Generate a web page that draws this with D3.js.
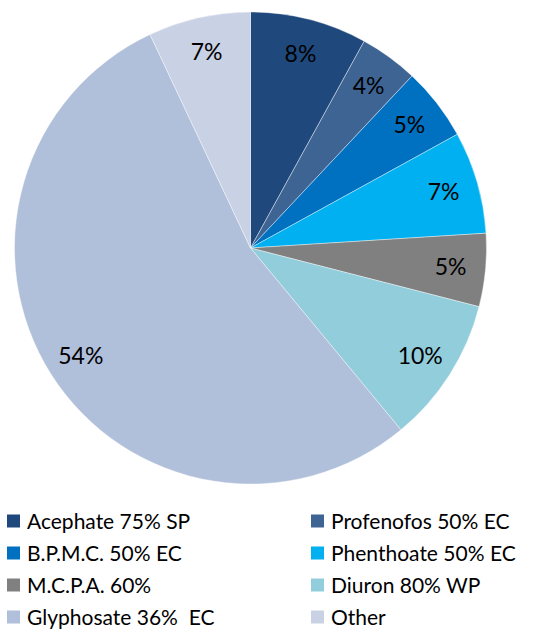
<!DOCTYPE html>
<html>
<head>
<meta charset="utf-8">
<script src="https://cdn.jsdelivr.net/npm/d3@7"></script>
<style>
  body { margin: 0; background: #fff; }
  text { font-family: Lato, "Open Sans", sans-serif; fill: #000; white-space: pre; }
</style>
</head>
<body>
<div id="chart"></div>
<script>
// pesticide share, clockwise from 12 o'clock
var products = ['Acephate 75% SP', 'Profenofos 50% EC', 'B.P.M.C. 50% EC', 'Phenthoate 50% EC',
                'M.C.P.A. 60%', 'Diuron 80% WP', 'Glyphosate 36%  EC', 'Other'];
var shares = [8, 4, 5, 7, 5, 10, 54, 7];
var colors = ['#1f497d', '#3e6494', '#0070c0', '#00b0f0', '#808080', '#92cddc', '#b0bfda', '#c9d1e4'];

var width = 536, height = 631,
    cx = 250.5, cy = 248, radius = 236;

var svg = d3.select('#chart').append('svg')
  .attr('width', width)
  .attr('height', height);

var data = products.map(function(p, i) { return { name: p, value: shares[i], color: colors[i] }; });

var pie = d3.pie().sort(null).value(function(d) { return d.value; }),
    arc = d3.arc().innerRadius(0).outerRadius(radius),
    labelArc = d3.arc().innerRadius(201).outerRadius(201);

var g = svg.append('g').attr('transform', 'translate(' + cx + ',' + cy + ')');

var slices = g.selectAll('g.slice')
  .data(pie(data))
  .enter().append('g').attr('class', 'slice');

slices.append('path')
  .attr('d', arc)
  .attr('fill', function(d) { return d.data.color; })
  .attr('stroke', '#fff')
  .attr('stroke-width', 0.4);

slices.append('text')
  .attr('transform', function(d) { return 'translate(' + labelArc.centroid(d) + ')'; })
  .attr('text-anchor', 'middle')
  .attr('dy', '0.36em')
  .style('font-size', '23px')
  .text(function(d) { return d.data.value + '%'; });

// legend, two columns
var col = d3.scaleOrdinal().domain([0, 1]).range([7, 311]),
    row = d3.scaleLinear().domain([0, 3]).range([521, 617]);

var legend = svg.selectAll('g.legend')
  .data(data)
  .enter().append('g')
  .attr('class', 'legend')
  .attr('transform', function(d, i) { return 'translate(' + col(i % 2) + ',' + row(Math.floor(i / 2)) + ')'; });

legend.append('rect')
  .attr('x', 0).attr('y', -6.5)
  .attr('width', 13).attr('height', 13)
  .attr('fill', function(d) { return d.color; });

legend.append('text')
  .attr('x', 20)
  .attr('dy', '0.36em')
  .style('font-size', '21px')
  .text(function(d) { return d.name; });
</script>
</body>
</html>
